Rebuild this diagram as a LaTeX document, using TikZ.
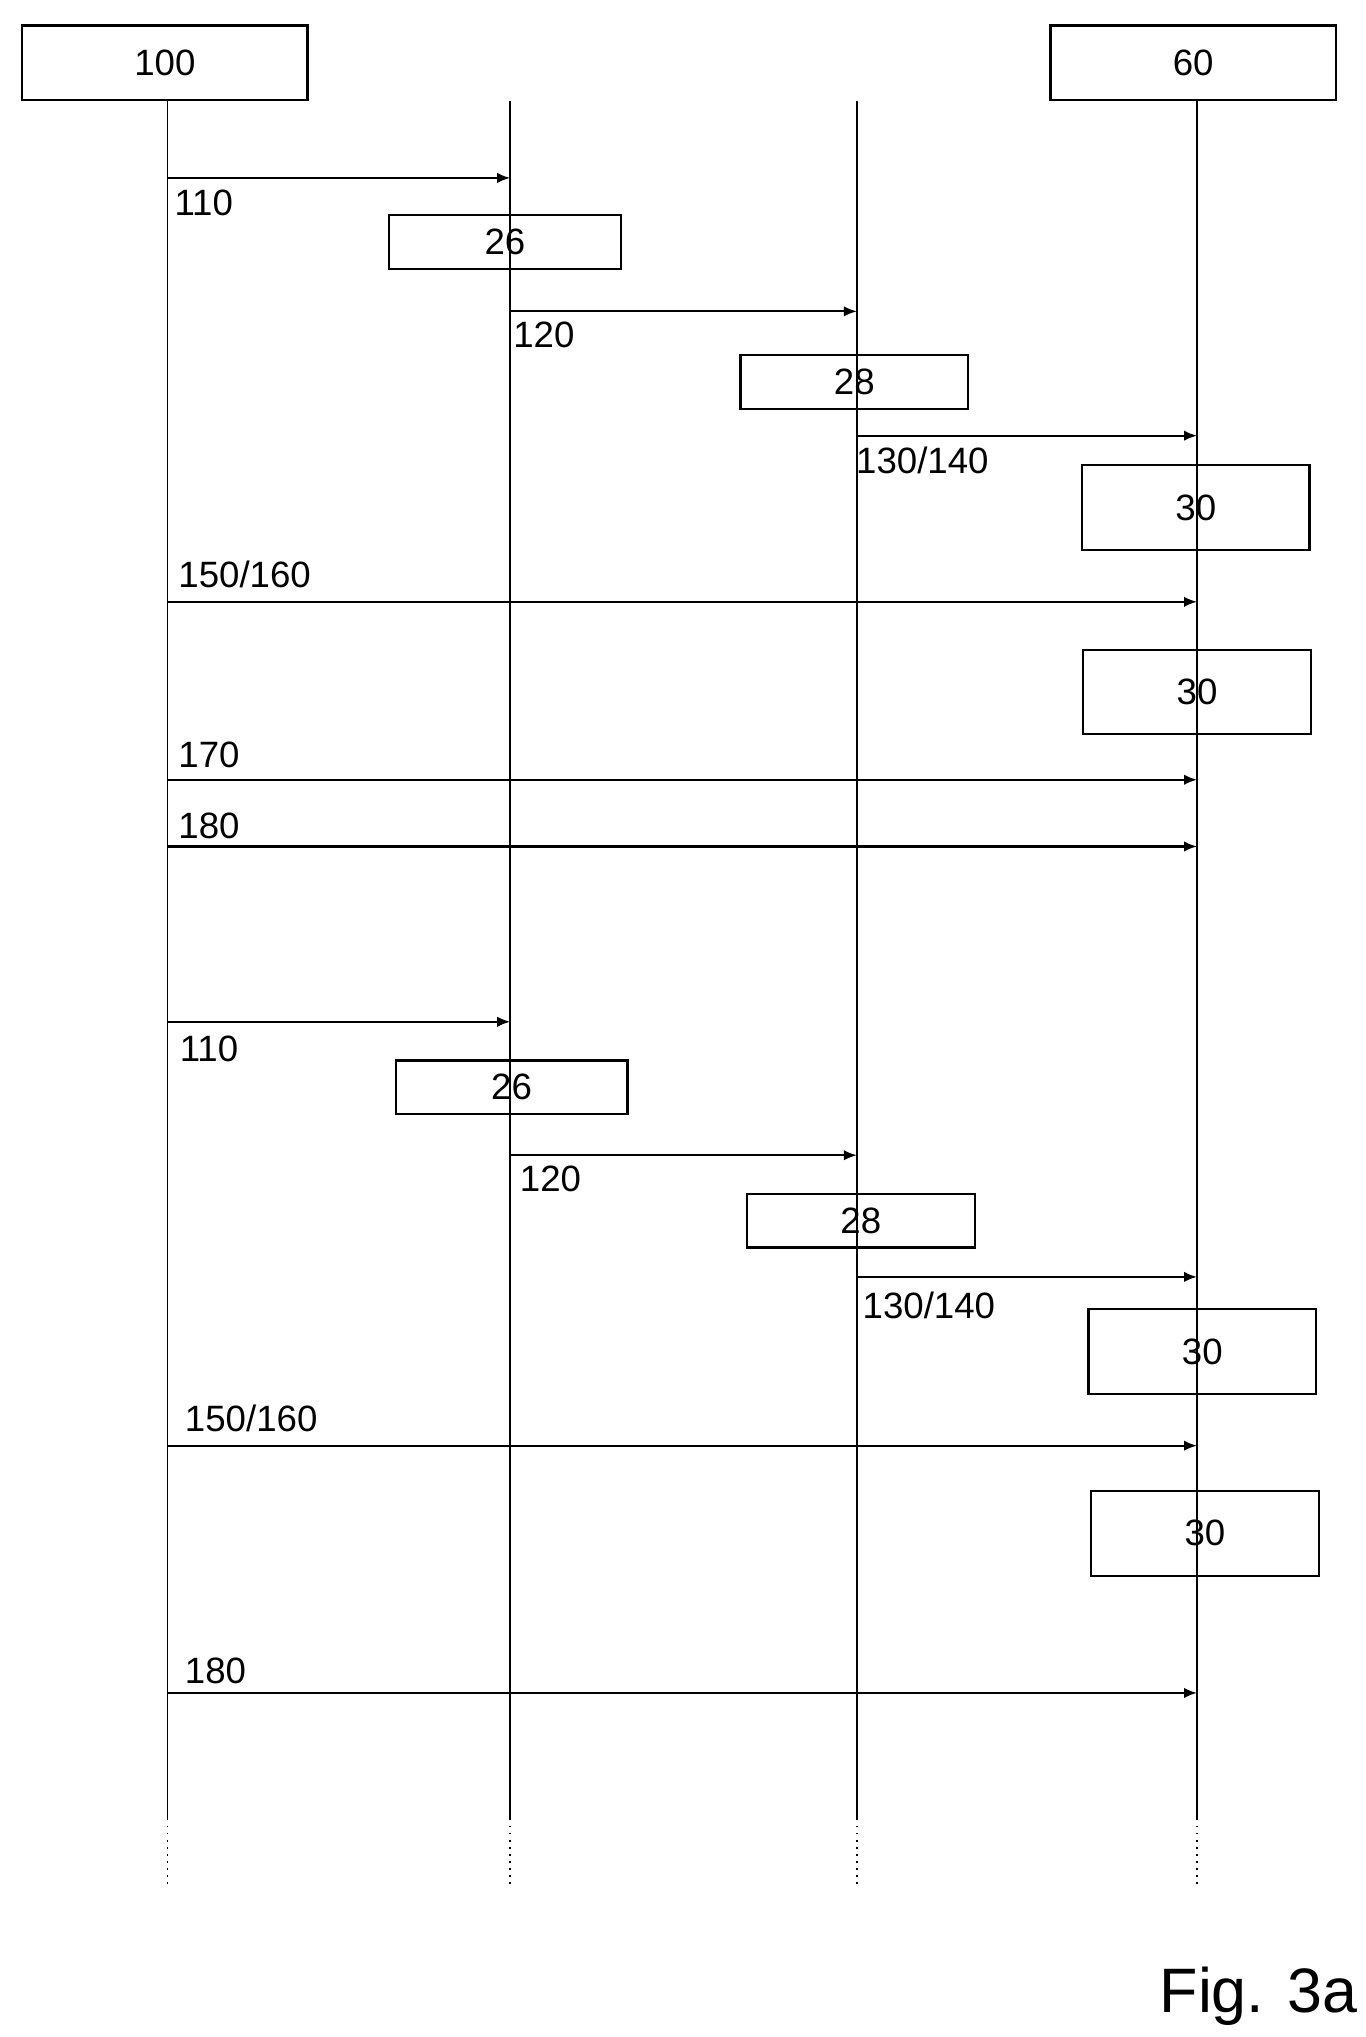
\documentclass[tikz,border=0pt]{standalone}
\usepackage{fontspec}
\setmainfont{Liberation Sans}
\usetikzlibrary{arrows.meta}
\begin{document}
\begin{tikzpicture}[x=0.5pt,y=-0.5pt,
  box/.style={draw,line width=0.9pt,inner sep=0pt,font=\fontsize{14}{16}\selectfont},
  lab/.style={font=\fontsize{14}{16}\selectfont,inner sep=0pt,anchor=west},
  life/.style={line width=0.7pt},
  msg/.style={line width=0.8pt,-{Latex[length=5pt,width=4pt]}}]
\useasboundingbox (0,0) rectangle (1044,1557);
\def\xa{128}\def\xb{390}\def\xc{655}\def\xd{915}
% header boxes
\node[box,minimum width=109pt,minimum height=28.5pt] (h100) at (126,48) {100};
\node[box,minimum width=109pt,minimum height=28.5pt] (h60) at (912,48) {60};
% lifelines
\foreach \n/\x in {a/\xa,b/\xb,c/\xc,d/\xd}{
  \coordinate (t\n) at (\x,77);
  \coordinate (m\n) at (\x,1390);
  \coordinate (e\n) at (\x,1440);
  \draw[life] (t\n) -- (m\n);
  \draw[life,dotted] (m\n) -- (e\n);
}
% boxes
\newcommand{\bx}[5]{\node[box,minimum width=#3*0.5pt,minimum height=#4*0.5pt] (#1) at (#2) {#5};}
\bx{b26a}{386,185}{177}{41}{26}
\bx{b28a}{653,292}{174}{41}{28}
\bx{b30a}{914,388}{174}{65}{30}
\bx{b30b}{915,529}{174}{64}{30}
\bx{b26b}{391,831}{177}{41}{26}
\bx{b28b}{658,933}{174}{41}{28}
\bx{b30c}{919,1033}{174}{65}{30}
\bx{b30d}{921,1172}{174}{65}{30}
% messages
\newcommand{\msgline}[5]{%
  \coordinate (s#1) at (#2,#4); \coordinate (r#1) at (#3,#4);
  \draw[msg] (s#1) -- (r#1);}
\msgline{1}{\xa}{\xb}{136}{}
\node[lab] at (133,155) {110};
\msgline{2}{\xb}{\xc}{238}{}
\node[lab] at (392,256) {120};
\msgline{3}{\xc}{\xd}{333}{}
\node[lab] at (654,352) {130/140};
\msgline{4}{\xa}{\xd}{460}{}
\node[lab] at (136,439) {150/160};
\msgline{5}{\xa}{\xd}{596}{}
\node[lab] at (136,577) {170};
\msgline{6}{\xa}{\xd}{647}{}
\node[lab] at (136,631) {180};
\msgline{7}{\xa}{\xb}{781}{}
\node[lab] at (137,802) {110};
\msgline{8}{\xb}{\xc}{883}{}
\node[lab] at (397,901) {120};
\msgline{9}{\xc}{\xd}{976}{}
\node[lab] at (659,998) {130/140};
\msgline{10}{\xa}{\xd}{1105}{}
\node[lab] at (141,1084) {150/160};
\msgline{11}{\xa}{\xd}{1294}{}
\node[lab] at (141,1277) {180};
\node[font=\fontsize{24}{28}\selectfont,inner sep=0pt,anchor=west] (fig) at (886,1526) {Fig. 3a};
\end{tikzpicture}
\end{document}
